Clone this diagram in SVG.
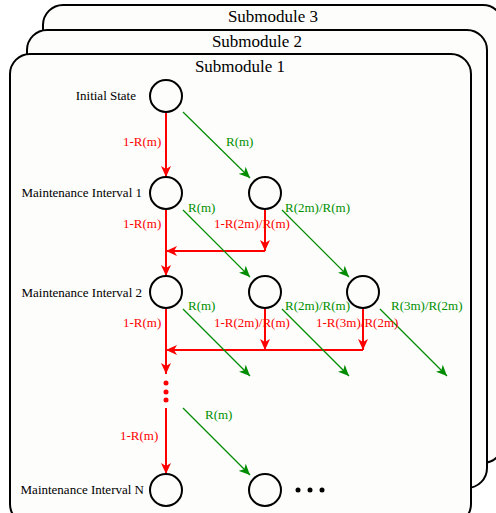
<svg xmlns="http://www.w3.org/2000/svg" width="496" height="513" viewBox="0 0 496 513">
<style>
.box{fill:#fdfdfb;stroke:#000;stroke-width:2}
.title{font-size:17px;fill:#000;text-anchor:middle}
.node{fill:none;stroke:#000;stroke-width:2}
.lbl{font-size:13px;fill:#000;text-anchor:end}
.r{stroke:#ff0000;stroke-width:2;fill:none}
.g{stroke:#008c00;stroke-width:1.2;fill:none}
.rt{font-size:13px;fill:#ff0000}
.gt{font-size:13px;fill:#009000}
</style>
<defs>
<marker id="ar" markerUnits="userSpaceOnUse" markerWidth="12" markerHeight="10" refX="11" refY="5" orient="auto">
<path d="M0,0 L11,5 L0,10 L3,5 z" fill="#ff0000"/>
</marker>
<marker id="ag" markerUnits="userSpaceOnUse" markerWidth="12" markerHeight="10" refX="11" refY="5" orient="auto">
<path d="M0,0 L11,5 L0,10 L3,5 z" fill="#008c00"/>
</marker>
</defs>
<rect width="496" height="513" fill="#fff"/>
<g font-family="'Liberation Serif', 'Times New Roman', 'DejaVu Serif', serif">
<g id="submodule3"><rect class="box" x="43" y="5" width="460" height="458" rx="20"/><text class="title" x="273" y="22">Submodule 3</text></g>
<g id="submodule2"><rect class="box" x="27" y="30" width="460" height="458" rx="20"/><text class="title" x="257" y="47">Submodule 2</text></g>
<g id="submodule1"><rect class="box" x="10" y="54" width="461" height="470" rx="20"/><text class="title" x="240" y="72">Submodule 1</text></g>

<g id="connectors">
<line class="r" x1="166" y1="112" x2="166" y2="177" marker-end="url(#ar)"/>
<line class="r" x1="166" y1="209" x2="166" y2="276" marker-end="url(#ar)"/>
<line class="r" x1="265" y1="209" x2="265" y2="251" marker-end="url(#ar)"/>
<line class="r" x1="265" y1="251" x2="166" y2="251" marker-end="url(#ar)"/>
<line class="r" x1="166" y1="308" x2="166" y2="374" marker-end="url(#ar)"/>
<line class="r" x1="265" y1="308" x2="265" y2="350" marker-end="url(#ar)"/>
<line class="r" x1="363" y1="308" x2="363" y2="350" marker-end="url(#ar)"/>
<line class="r" x1="363" y1="350" x2="166" y2="350" marker-end="url(#ar)"/>
<line class="r" x1="166" y1="408" x2="166" y2="474" marker-end="url(#ar)"/>
<circle cx="166" cy="383" r="2.5" fill="#ff0000"/>
<circle cx="166" cy="392" r="2.5" fill="#ff0000"/>
<circle cx="166" cy="400" r="2.5" fill="#ff0000"/>

<line class="g" x1="183" y1="112" x2="250" y2="178" marker-end="url(#ag)"/>
<line class="g" x1="183" y1="210" x2="250" y2="277" marker-end="url(#ag)"/>
<line class="g" x1="282" y1="210" x2="349" y2="277" marker-end="url(#ag)"/>
<line class="g" x1="183" y1="309" x2="250" y2="376" marker-end="url(#ag)"/>
<line class="g" x1="282" y1="309" x2="349" y2="376" marker-end="url(#ag)"/>
<line class="g" x1="380" y1="309" x2="447" y2="376" marker-end="url(#ag)"/>
<line class="g" x1="183" y1="408" x2="250" y2="475" marker-end="url(#ag)"/>

<text class="rt" x="123" y="146">1-R(m)</text>
<text class="gt" x="226" y="146">R(m)</text>
<text class="rt" x="123" y="228">1-R(m)</text>
<text class="gt" x="188" y="212">R(m)</text>
<text class="rt" x="214" y="228">1-R(2m)/R(m)</text>
<text class="gt" x="285" y="212">R(2m)/R(m)</text>
<text class="rt" x="123" y="327">1-R(m)</text>
<text class="gt" x="188" y="310">R(m)</text>
<text class="rt" x="214" y="327">1-R(2m)/R(m)</text>
<text class="gt" x="285" y="310">R(2m)/R(m)</text>
<text class="rt" x="316" y="327">1-R(3m)/R(2m)</text>
<text class="gt" x="391" y="310">R(3m)/R(2m)</text>
<text class="gt" x="205" y="419">R(m)</text>
<text class="rt" x="120" y="440">1-R(m)</text>
</g>

<g id="initial-state"><circle class="node" cx="166" cy="96" r="16"/><text class="lbl" x="136" y="100">Initial State</text></g>
<g id="mi1"><circle class="node" cx="166" cy="193" r="16"/><text class="lbl" x="142" y="197">Maintenance Interval 1</text></g>
<g id="mi1-b"><circle class="node" cx="265" cy="193" r="16"/></g>
<g id="mi2"><circle class="node" cx="166" cy="292" r="16"/><text class="lbl" x="142" y="297">Maintenance Interval 2</text></g>
<g id="mi2-b"><circle class="node" cx="265" cy="292" r="16"/></g>
<g id="mi2-c"><circle class="node" cx="363" cy="292" r="16"/></g>
<g id="miN"><circle class="node" cx="166" cy="490" r="16"/><text class="lbl" x="144" y="494">Maintenance Interval N</text></g>
<g id="miN-b"><circle class="node" cx="265" cy="490" r="16"/></g>
<g id="ellipsis"><circle cx="298" cy="490" r="2.5" fill="#000"/><circle cx="310" cy="490" r="2.5" fill="#000"/><circle cx="322" cy="490" r="2.5" fill="#000"/></g>
</g>
</svg>
